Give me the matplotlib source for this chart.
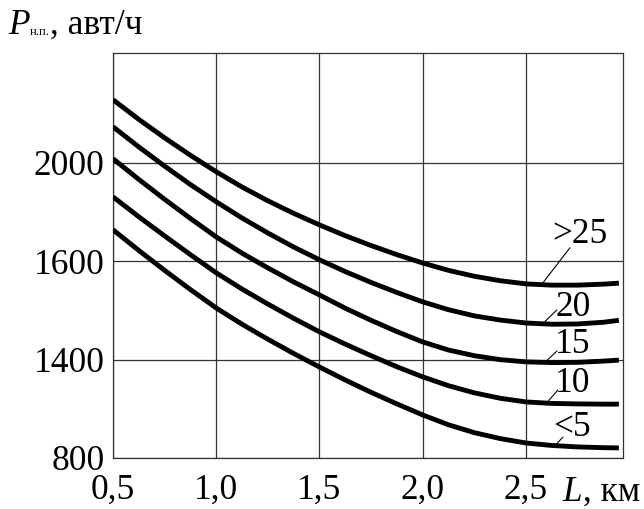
import matplotlib
matplotlib.use("Agg")
import matplotlib.pyplot as plt

# Длина перегона L, км
L_km = [0.5, 0.625, 0.75, 0.875, 1.0, 1.125, 1.25, 1.375, 1.5, 1.625, 1.75,
        1.875, 2.0, 2.125, 2.25, 2.375, 2.5, 2.625, 2.75, 2.875, 2.95]

# Пропускная способность по кривым
p_gt25 = [2257, 2177, 2102, 2031, 1964, 1902, 1846, 1795, 1748, 1704, 1664,
          1627, 1593, 1563, 1539, 1521, 1508, 1503, 1503, 1507, 1511]
p_20 = [2147, 2065, 1987, 1912, 1842, 1776, 1715, 1658, 1606, 1558, 1514,
        1473, 1435, 1403, 1378, 1361, 1349, 1344, 1345, 1352, 1360]
p_15 = [2017, 1933, 1852, 1774, 1699, 1633, 1573, 1516, 1463, 1409, 1360,
        1314, 1272, 1239, 1216, 1200, 1191, 1188, 1189, 1194, 1198]
p_10 = [1862, 1781, 1703, 1627, 1553, 1487, 1426, 1368, 1313, 1263, 1216,
        1171, 1130, 1094, 1065, 1043, 1028, 1022, 1020, 1019, 1019]
p_lt5 = [1728, 1644, 1563, 1485, 1410, 1344, 1283, 1225, 1170, 1117, 1067,
         1020, 975, 935, 903, 879, 861, 851, 845, 842, 841]

curve_names = [">25", "20", "15", "10", "<5"]
curves = [p_gt25, p_20, p_15, p_10, p_lt5]

x_ticks = [0.5, 1.0, 1.5, 2.0, 2.5]
x_ticklabels = ["0,5", "1,0", "1,5", "2,0", "2,5"]
y_ticks = [800, 1200, 1600, 2000]
y_ticklabels = ["800", "1400", "1600", "2000"]

# положение подписей кривых и выносок (в единицах осей)
label_pos = [(2.761, 1708), (2.728, 1411), (2.728, 1260), (2.728, 1105), (2.723, 922)]
leader_from = [(2.713, 1655), (2.650, 1402), (2.650, 1235), (2.655, 1077), (2.679, 885)]
leader_to = [(2.578, 1508), (2.582, 1347), (2.592, 1189), (2.602, 1026), (2.640, 850)]

plt.rcParams['font.family'] = ['Liberation Serif', 'DejaVu Serif']
FS = 25.5

W, H = 644, 509
fig = plt.figure(figsize=(W / 100, H / 100), dpi=100)
ax = fig.add_axes([113 / W, 1 - 458 / H, (623 - 113) / W, (458 - 53) / H])

for vals in curves:
    ax.plot(L_km, vals, color='black', linewidth=3.5, solid_capstyle='butt',
            solid_joinstyle='round', zorder=3)

for name, tp, p0, p1 in zip(curve_names, label_pos, leader_from, leader_to):
    ax.annotate("", xy=p1, xytext=p0,
                arrowprops=dict(arrowstyle='-', lw=0.8, color='black',
                                shrinkA=0, shrinkB=0))
    ax.text(tp[0], tp[1], name, fontsize=FS, ha='center', va='center', zorder=4)

ax.set_xlim(0.5, 2.97)
ax.set_ylim(800, 2447)
ax.set_xticks(x_ticks)
ax.set_xticklabels(x_ticklabels)
ax.set_yticks(y_ticks)
ax.set_yticklabels(y_ticklabels)
ax.tick_params(axis='both', length=0, labelsize=FS)
ax.tick_params(axis='x', pad=11)
ax.tick_params(axis='y', pad=6)

ax.grid(True, color='#333333', linewidth=0.9)
ax.set_axisbelow(True)
for sp in ax.spines.values():
    sp.set_color('#333333')
    sp.set_linewidth(0.9)

# подпись оси Y (в верхнем левом углу)
fig.text(8 / W, 1 - 34 / H, "P", fontsize=FS, style='italic', va='baseline')
fig.text(30 / W, 1 - 35 / H, "н.п.", fontsize=9, va='baseline')
fig.text(50 / W, 1 - 34 / H, ", авт/ч", fontsize=FS, va='baseline')

# подпись оси X
fig.text(562 / W, 1 - 501 / H, "L", fontsize=FS, style='italic', va='baseline')
fig.text(583 / W, 1 - 501 / H, ", км", fontsize=FS, va='baseline')

fig.savefig("out.png", dpi=100)
